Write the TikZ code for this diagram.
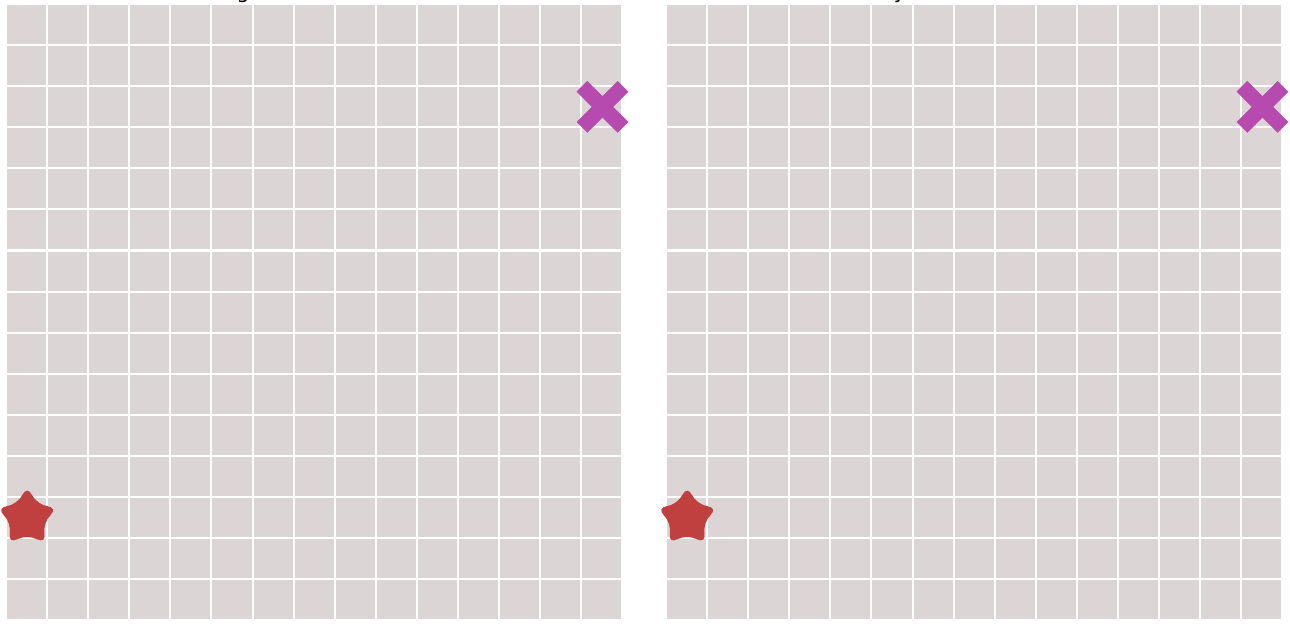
\documentclass[tikz,border=0pt]{standalone}
\usepackage{fontspec}
\setmainfont{DejaVu Sans}
\usetikzlibrary{shapes.geometric}
\definecolor{cellgray}{RGB}{220,213,214}
\definecolor{startred}{RGB}{192,64,63}
\definecolor{goalpink}{RGB}{183,74,174}
\begin{document}
\begin{tikzpicture}[cell/.style={fill=cellgray,draw=none},startmark/.style={star,star points=5,star point ratio=2.1,fill=startred,minimum size=1.62cm,inner sep=0pt,rounded corners=8pt},goalline/.style={draw=goalpink,line width=10.5pt},paneltitle/.style={font=\fontsize{14}{17}\selectfont,anchor=base}]
\useasboundingbox (0,0) rectangle (31.39,-15.33);
% two 15x15 grids
\foreach \ox in {0.17,16.23}{
  \foreach \i in {0,...,14}{
    \foreach \j in {0,...,14}{
      \fill[cell] (\ox+\i,-0.12-\j) rectangle ++(0.95,-0.95);
    }
  }
}
\node[paneltitle] (lefttitle) at (7.645,0.04) {Original Environment};
\node[paneltitle] (righttitle) at (23.705,0.04) {Visually Altered Environment};
\node[startmark] (leftstart) at (0.66,-12.6) {};
\node[startmark] (rightstart) at (16.72,-12.6) {};
\coordinate (leftgoal) at (14.66,-2.6);
\coordinate (rightgoal) at (30.72,-2.6);
% goal crosses
\foreach \g in {leftgoal,rightgoal}{
  \draw[goalline] ([shift={(-0.5,-0.5)}]\g) -- ([shift={(0.5,0.5)}]\g);
  \draw[goalline] ([shift={(-0.5,0.5)}]\g) -- ([shift={(0.5,-0.5)}]\g);
}
\end{tikzpicture}
\end{document}
